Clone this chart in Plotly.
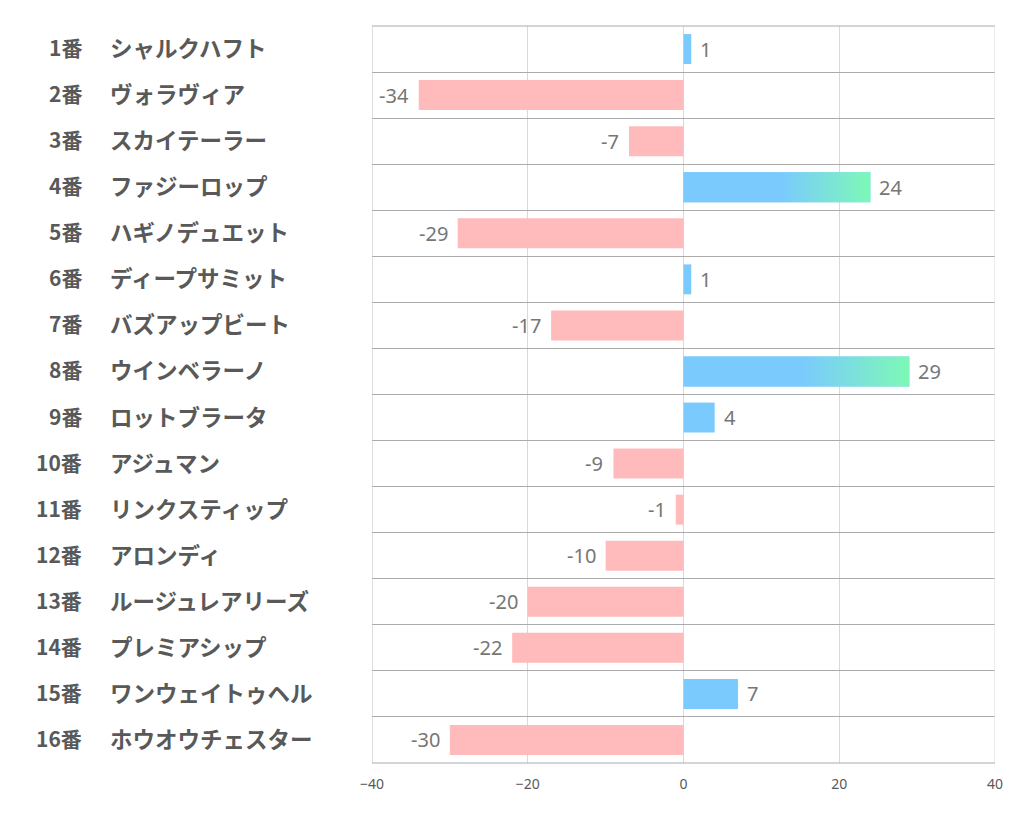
import plotly.graph_objects as go

numbers = ["1番", "2番", "3番", "4番", "5番", "6番", "7番", "8番",
           "9番", "10番", "11番", "12番", "13番", "14番", "15番", "16番"]
names = ["シャルクハフト", "ヴォラヴィア", "スカイテーラー", "ファジーロップ",
         "ハギノデュエット", "ディープサミット", "バズアップビート", "ウインベラーノ",
         "ロットブラータ", "アジュマン", "リンクスティップ", "アロンディ",
         "ルージュレアリーズ", "プレミアシップ", "ワンウェイトゥヘル", "ホウオウチェスター"]
values = [1, -34, -7, 24, -29, 1, -17, 29, 4, -9, -1, -10, -20, -22, 7, -30]
x_ticks = [-40, -20, 0, 20, 40]

BLUE = "#7ACAFE"
GREEN = "#7DF8B6"
PINK = "#FFBBBB"
BAR_W = 0.65

n = len(values)
ypos = list(range(n))
colors = [BLUE if v >= 0 else PINK for v in values]

fig = go.Figure()
fig.add_trace(go.Bar(
    x=values, y=ypos, orientation="h", width=BAR_W,
    marker=dict(color=colors, line=dict(width=0)),
    hoverinfo="skip",
))

# gradient overlay for long positive bars
for i, v in enumerate(values):
    if v >= 20:
        y0, y1 = i - BAR_W / 2, i + BAR_W / 2
        fig.add_trace(go.Scatter(
            x=[0, v, v, 0, 0], y=[y0, y0, y1, y1, y0],
            mode="lines", fill="toself", line=dict(width=0),
            fillgradient=dict(type="horizontal",
                              colorscale=[[0, BLUE], [1, GREEN]],
                              start=0.52 * v, stop=v),
            hoverinfo="skip", showlegend=False,
        ))

annotations = []
for i, v in enumerate(values):
    annotations.append(dict(
        x=v, xref="x", y=i, yref="y", text=str(v), showarrow=False,
        xanchor="left" if v >= 0 else "right", yanchor="middle",
        xshift=7 if v >= 0 else -8,
        font=dict(size=20, color="#767676", family="Noto Sans"),
    ))
    annotations.append(dict(
        x=-0.4615, xref="paper", y=i, yref="y", text=f"<b>{numbers[i]}</b>",
        showarrow=False, xanchor="right", yanchor="middle", yshift=2,
        font=dict(size=21, color="#595959", family="Noto Sans CJK JP"),
    ))
    annotations.append(dict(
        x=-0.4238, xref="paper", y=i, yref="y", text=f"<b>{names[i]}</b>",
        showarrow=False, xanchor="left", yanchor="middle", yshift=2,
        font=dict(size=22.5, color="#595959", family="Noto Sans CJK JP"),
    ))

fig.update_layout(
    width=1021, height=834,
    margin=dict(l=364, r=34, t=18, b=79),
    plot_bgcolor="white", paper_bgcolor="white",
    showlegend=False,
    annotations=annotations,
    xaxis=dict(range=[-40, 40], tickvals=x_ticks, showgrid=True,
               gridcolor="#D9D9D9", gridwidth=1, zeroline=False,
               tickfont=dict(size=14, color="#595959", family="Noto Sans"),
               ticks="", ticklabelstandoff=11,
               showline=False, fixedrange=True),
    yaxis=dict(range=[n - 0.5, -0.5], tickvals=[k - 0.5 for k in range(n + 1)],
               showticklabels=False, ticks="", showgrid=True,
               gridcolor="#ABABAB", gridwidth=1, zeroline=False,
               showline=False, fixedrange=True),
    shapes=[
        dict(type="line", xref="x", yref="paper", x0=-40, x1=-40, y0=0, y1=1,
             line=dict(color="#BFBFBF", width=1)),
        dict(type="line", xref="x", yref="paper", x0=40, x1=40, y0=0, y1=1,
             line=dict(color="#D9D9D9", width=1)),
        dict(type="line", xref="paper", yref="paper", x0=0, x1=1, y0=1, y1=1,
             line=dict(color="#ABABAB", width=1)),
        dict(type="line", xref="paper", yref="paper", x0=0, x1=1, y0=0, y1=0,
             line=dict(color="#ABABAB", width=1)),
    ],
)

fig.write_html("out.html")
